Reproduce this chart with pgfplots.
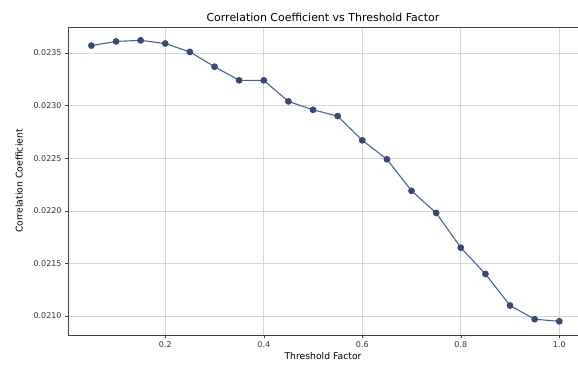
\documentclass[border=0pt]{standalone}
\usepackage{fontspec}
\setmainfont{DejaVu Sans}
\usepackage{pgfplots}
\pgfplotsset{compat=1.18}
\definecolor{linec}{HTML}{4860A0}
\definecolor{markc}{HTML}{3A4778}
\definecolor{gridc}{HTML}{D6D6D6}
\begin{document}
\begin{tikzpicture}
\begin{axis}[
  name=ax,
  scale only axis,
  width=510bp, height=308bp,
  xmin=0.0025, xmax=1.0380,
  ymin=0.02082, ymax=0.023747,
  axis x line=box, axis y line=left,
  xtick pos=left, ytick pos=left,
  axis line style={-, draw=black!75, line width=0.6pt},
  xtick={0.2,0.4,0.6,0.8,1.0},
  ytick={0.0210,0.0215,0.0220,0.0225,0.0230,0.0235},
  xticklabel style={/pgf/number format/fixed, /pgf/number format/fixed zerofill, /pgf/number format/precision=1},
  yticklabel style={/pgf/number format/fixed, /pgf/number format/fixed zerofill, /pgf/number format/precision=4},
  scaled y ticks=false, scaled x ticks=false,
  /pgf/number format/assume math mode=true,
  tick label style={font=\fontsize{8}{9}\selectfont, text=black!80},
  tick align=outside,
  tick style={black!75, line width=0.5pt},
  major tick length=3bp,
  grid=major,
  major grid style={gridc, line width=0.6pt},
  title={Correlation Coefficient vs Threshold Factor},
  title style={font=\fontsize{11}{13}\selectfont, yshift=-4bp},
  xlabel={Threshold Factor},
  ylabel={Correlation Coefficient},
  label style={font=\fontsize{9.3}{10}\selectfont},
  xlabel style={yshift=2bp},
  ylabel style={yshift=4bp},
]
\addplot[color=linec, line width=1.1pt, mark=*, mark size=2.8bp, mark options={fill=markc, draw=markc}] coordinates {
(0.05,0.02357) (0.10,0.02361) (0.15,0.02362) (0.20,0.02359)
(0.25,0.02351) (0.30,0.02337) (0.35,0.02324) (0.40,0.02324)
(0.45,0.02304) (0.50,0.02296) (0.55,0.02290) (0.60,0.02267)
(0.65,0.02249) (0.70,0.02219) (0.75,0.02198) (0.80,0.02165)
(0.85,0.02140) (0.90,0.02110) (0.95,0.02097) (1.00,0.02095)
};
\end{axis}
\pgfresetboundingbox
\path ([xshift=-68bp,yshift=-30bp]ax.south west) rectangle ([yshift=27bp]ax.north east);
\end{tikzpicture}
\end{document}
